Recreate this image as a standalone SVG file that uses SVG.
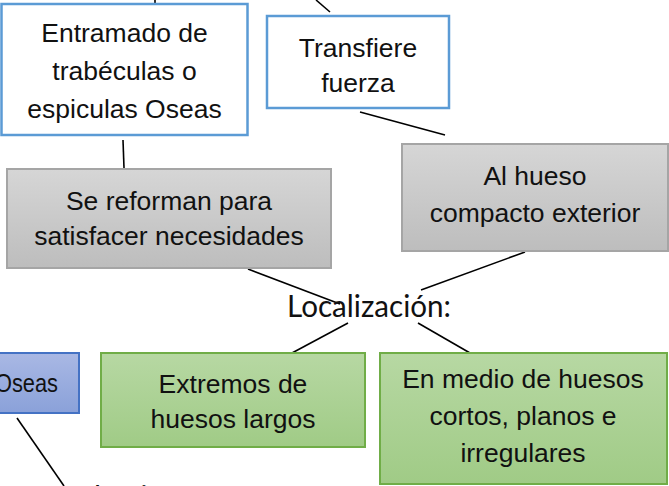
<svg xmlns="http://www.w3.org/2000/svg" width="669" height="486" viewBox="0 0 669 486">
<defs>
<linearGradient id="gGray" x1="0" y1="0" x2="0" y2="1"><stop offset="0" stop-color="#d6d6d6"/><stop offset="1" stop-color="#bdbdbd"/></linearGradient>
<linearGradient id="gGreen" x1="0" y1="0" x2="0" y2="1"><stop offset="0" stop-color="#b7d8a3"/><stop offset="1" stop-color="#a0cb86"/></linearGradient>
<linearGradient id="gBlue" x1="0" y1="0" x2="0" y2="1"><stop offset="0" stop-color="#a9b8e4"/><stop offset="1" stop-color="#8aa1d9"/></linearGradient>
</defs>
<style>
.t{font-family:"Liberation Sans",Arial,sans-serif;font-size:26.5px;fill:#111;text-anchor:middle}
.outline{fill:#fff;stroke:#5b9bd5;stroke-width:2.5}
.gray{fill:url(#gGray);stroke:#a5a5a5;stroke-width:2}
.green{fill:url(#gGreen);stroke:#70ad47;stroke-width:2}
.blue{fill:url(#gBlue);stroke:#4472c4;stroke-width:2}
.c line{stroke:#000;stroke-width:1.6}
.loc{font-family:"Lato","Liberation Sans",sans-serif;font-size:30px;fill:#111}
</style>
<rect width="669" height="486" fill="#fff"/>
<g class="c" id="connectors">
<line x1="155" y1="0" x2="155" y2="3"/>
<line x1="316" y1="0" x2="330" y2="12"/>
<line x1="360" y1="112" x2="445" y2="135"/>
<line x1="123" y1="140" x2="124" y2="168"/>
<line x1="248" y1="269" x2="340" y2="304"/>
<line x1="525" y1="252" x2="421" y2="290"/>
<line x1="348" y1="323" x2="292" y2="353"/>
<line x1="418" y1="323" x2="470" y2="353"/>
<line x1="17" y1="418" x2="64" y2="486"/>
</g>
<g id="n-entramado">
<rect class="outline" x="1.5" y="4" width="246" height="131"/>
<text class="t" x="124.5" y="42">Entramado de</text>
<text class="t" x="124.5" y="80">trabéculas o</text>
<text class="t" x="124.5" y="118">espiculas Oseas</text>
</g>
<g id="n-transfiere">
<rect class="outline" x="267" y="16" width="182" height="92"/>
<text class="t" x="358" y="57">Transfiere</text>
<text class="t" x="358" y="92">fuerza</text>
</g>
<g id="n-alhueso">
<rect class="gray" x="402" y="144" width="266" height="107"/>
<text class="t" x="535" y="185">Al hueso</text>
<text class="t" x="535" y="222">compacto exterior</text>
</g>
<g id="n-reforman">
<rect class="gray" x="7" y="169" width="324" height="99"/>
<text class="t" x="169" y="210">Se reforman para</text>
<text class="t" x="169" y="245">satisfacer necesidades</text>
</g>
<g id="n-localizacion">
<text class="loc" x="287" y="317" textLength="164" lengthAdjust="spacingAndGlyphs">Localización:</text>
</g>
<g id="n-extremos">
<rect class="green" x="101" y="353" width="264" height="94"/>
<text class="t" x="233" y="393">Extremos de</text>
<text class="t" x="233" y="428">huesos largos</text>
</g>
<g id="n-enmedio">
<rect class="green" x="380" y="353" width="287" height="131"/>
<text class="t" x="523" y="388">En medio de huesos</text>
<text class="t" x="523" y="425">cortos, planos e</text>
<text class="t" x="523" y="462">irregulares</text>
</g>
<g id="n-oseas">
<rect class="blue" x="-10" y="353" width="89" height="60"/>
<text class="t" x="-5" y="392" style="text-anchor:start" textLength="63" lengthAdjust="spacingAndGlyphs">Oseas</text>
</g>
<g id="n-bottom">
<text class="loc" x="94" y="508">lasticos</text>
</g>
</svg>
